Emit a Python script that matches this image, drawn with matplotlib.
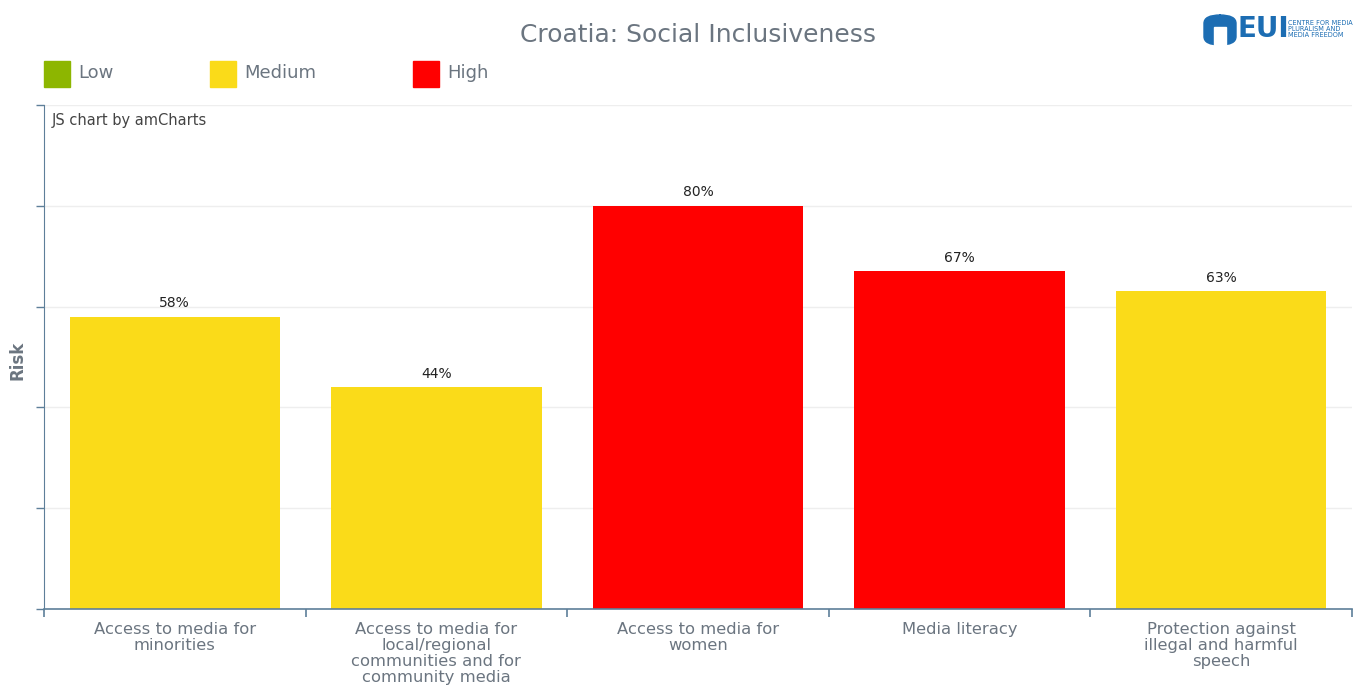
import matplotlib.pyplot as plt
from matplotlib.patches import Rectangle, FancyBboxPatch

categories = [
    "Access to media for\nminorities",
    "Access to media for\nlocal/regional\ncommunities and for\ncommunity media",
    "Access to media for\nwomen",
    "Media literacy",
    "Protection against\nillegal and harmful\nspeech",
]
risk = [58, 44, 80, 67, 63]
levels = ["Medium", "Medium", "High", "High", "Medium"]

legend_labels = ["Low", "Medium", "High"]
level_colors = {"Low": "#8DB600", "Medium": "#FADB19", "High": "#FF0000"}

axis_col = "#5E7F99"
text_col = "#6B7580"

fig = plt.figure(figsize=(13.57, 6.95), dpi=100)
ax = fig.add_axes([44 / 1357, 1 - 609 / 695, 1308 / 1357, 504 / 695])

x = range(len(categories))
bars = ax.bar(x, risk, width=0.805, color=[level_colors[l] for l in levels], zorder=2)
for b, v in zip(bars, risk):
    ax.text(b.get_x() + b.get_width() / 2, v + 1.3, f"{v}%", ha="center", va="bottom",
            fontsize=10, color="#222222")

ax.set_xlim(-0.5, len(categories) - 0.5)
ax.set_ylim(0, 100)
ax.set_yticks([0, 20, 40, 60, 80, 100])
ax.set_yticklabels([])
ax.yaxis.grid(True, color="#EEEEEE", linewidth=1, zorder=0)
ax.tick_params(axis="y", length=6, color=axis_col, width=1)
ax.set_xticks([i - 0.5 for i in range(len(categories) + 1)])
ax.set_xticklabels([])
ax.tick_params(axis="x", length=6, color=axis_col, width=1.2, direction="out")
for i, c in enumerate(categories):
    ax.text(i, -2.5, c, ha="center", va="top", fontsize=11.8, color=text_col,
            linespacing=1.1)

for s in ["top", "right"]:
    ax.spines[s].set_visible(False)
ax.spines["left"].set_color(axis_col)
ax.spines["bottom"].set_color(axis_col)
ax.spines["bottom"].set_linewidth(1.2)

fig.text(17 / 1357, 1 - 360 / 695, "Risk", rotation=90, ha="center", va="center",
         fontsize=12, fontweight="bold", color=text_col)

ax.text(0.006, 0.985, "JS chart by amCharts", transform=ax.transAxes, ha="left", va="top",
        fontsize=10.5, color="#444444")

fig.text(698 / 1357, 1 - 35 / 695, "Croatia: Social Inclusiveness", ha="center", va="center",
         fontsize=18, color=text_col)

# legend
leg_x = [44, 210, 413]
for lx, lab in zip(leg_x, legend_labels):
    fig.add_artist(Rectangle((lx / 1357, 1 - 87 / 695), 26 / 1357, 26 / 695,
                             transform=fig.transFigure, color=level_colors[lab]))
    fig.text((lx + 34) / 1357, 1 - 73 / 695, lab, ha="left", va="center",
             fontsize=13, color=text_col)

# EUI logo approximation
logo_blue = "#1C6DB3"
fig.add_artist(FancyBboxPatch((1204 / 1357, 1 - 45 / 695), 32 / 1357, 30 / 695,
                              boxstyle="round,pad=0,rounding_size=0.012",
                              transform=fig.transFigure, color=logo_blue))
fig.add_artist(Rectangle((1214 / 1357, 1 - 45 / 695), 12 / 1357, 18 / 695,
                         transform=fig.transFigure, color="white"))
fig.text(1238 / 1357, 1 - 29 / 695, "EUI", ha="left", va="center", fontsize=20,
         fontweight="bold", color=logo_blue)
fig.text(1288 / 1357, 1 - 29 / 695, "CENTRE FOR MEDIA\nPLURALISM AND\nMEDIA FREEDOM",
         ha="left", va="center", fontsize=4.7, color=logo_blue, linespacing=1.0)

fig.savefig("out.png", dpi=100)
